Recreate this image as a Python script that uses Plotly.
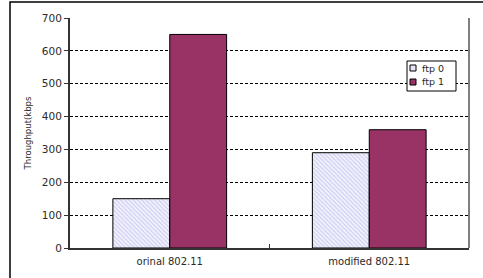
import plotly.graph_objects as go

categories = ["orinal 802.11", "modified 802.11"]
ftp0 = [150, 290]
ftp1 = [650, 360]
series_names = ["ftp 0", "ftp 1"]
series_colors = ["#e4e4f8", "#993366"]

L, R, T, B = 70, 14, 18, 30
W, H = 483, 278
pw, ph = W - L - R, H - T - B
FONT = "DejaVu Sans, Liberation Sans, Arial, sans-serif"

def px(x):
    return (x - L) / pw

def py(y):
    return (H - B - y) / ph

fig = go.Figure()
fig.add_trace(go.Bar(
    x=categories, y=ftp0, name=series_names[0],
    marker=dict(color=series_colors[0], line=dict(color="#000000", width=1),
                pattern=dict(shape="\\", fgcolor="#a0a0e6", bgcolor="#f2f2fc", size=3, solidity=0.35)),
))
fig.add_trace(go.Bar(
    x=categories, y=ftp1, name=series_names[1],
    marker=dict(color=series_colors[1], line=dict(color="#000000", width=1)),
))

fig.update_layout(
    width=W, height=H,
    margin=dict(l=L, r=R, t=T, b=B, pad=0),
    paper_bgcolor="white", plot_bgcolor="white",
    barmode="group", bargap=0.43, bargroupgap=0,
    font=dict(family=FONT, size=10, color="#2a2a2a"),
    showlegend=False,
)
fig.update_xaxes(
    showline=True, linecolor="#333333", linewidth=2, mirror=False,
    showgrid=False, ticks="", tickfont=dict(size=10), ticklabelstandoff=3,
)
fig.update_yaxes(
    range=[0, 700], dtick=100, showline=True, linecolor="#333333", linewidth=2,
    showgrid=True, gridcolor="#000000", griddash="3px,2px", gridwidth=1,
    ticks="outside", ticklen=4, tickcolor="#333333", tickfont=dict(size=10.5),
    title=dict(text="Throughput(kbps", font=dict(size=8.5), standoff=9),
    zeroline=False,
)
# right frame of plot area
fig.add_shape(type="line", xref="paper", yref="paper", x0=1, x1=1, y0=0, y1=1,
              line=dict(color="#555555", width=1.5))
# small category divider tick on the x axis
fig.add_shape(type="line", xref="paper", yref="paper", x0=0.5, x1=0.5, y0=0, y1=py(244),
              line=dict(color="#333333", width=1))
# outer chart frame
fig.add_shape(type="rect", xref="paper", yref="paper",
              x0=px(10), x1=px(W + 10), y0=py(H + 20), y1=py(2),
              line=dict(color="#000000", width=1.5), fillcolor="rgba(0,0,0,0)", layer="below")

# legend box (drawn manually to match compact layout)
fig.add_shape(type="rect", xref="paper", yref="paper",
              x0=px(407), x1=px(456), y0=py(91), y1=py(61),
              line=dict(color="#000000", width=1), fillcolor="white", layer="above")
for i, name in enumerate(series_names):
    yc = 68 + i * 14
    fig.add_shape(type="rect", xref="paper", yref="paper",
                  x0=px(410), x1=px(416), y0=py(yc + 3), y1=py(yc - 3),
                  line=dict(color="#000000", width=1), fillcolor=series_colors[i], layer="above")
    fig.add_annotation(xref="paper", yref="paper", x=px(420), y=py(yc),
                       text=name, showarrow=False, xanchor="left", yanchor="middle",
                       font=dict(size=9.5, color="#2a2a2a"))

fig.write_html("out.html", config={"displayModeBar": False},
               post_script="document.body.style.margin='0';")
